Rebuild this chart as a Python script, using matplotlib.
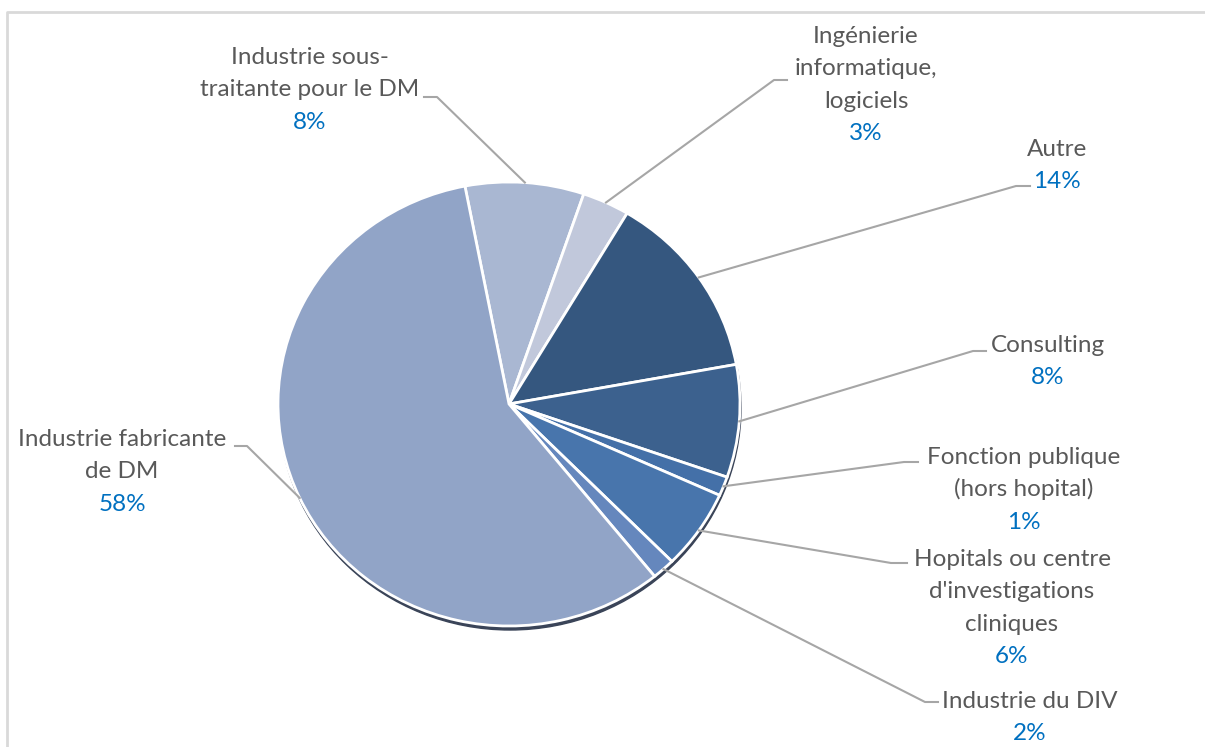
import numpy as np
import matplotlib
matplotlib.use('Agg')
import matplotlib.pyplot as plt
from matplotlib.patches import Ellipse
from matplotlib.transforms import Affine2D

# data, clockwise from the top
categories = [["Industrie sous-", "traitante pour le DM"],
              ["Ingénierie", "informatique,", "logiciels"],
              ["Autre"],
              ["Consulting"],
              ["Fonction publique", "(hors hopital)"],
              ["Hopitals ou centre", "d'investigations", "cliniques"],
              ["Industrie du DIV"],
              ["Industrie fabricante", "de DM"]]
shares = [8.3, 3.3, 13.6, 8.2, 1.4, 5.8, 1.6, 57.8]
colors = ["#A9B7D2", "#C1C8DB", "#35577F", "#3C618E", "#4470A8",
          "#4875AC", "#6587BD", "#91A4C7"]

# layout (pixels, y from the top): centre of first label line, leader elbow
label_pos = [(310, 55), (866, 34), (1057, 147), (1048, 343),
             (1024, 455), (1012, 557), (1030, 699), (122, 437)]
elbow = [((424, 97), (437, 97)), ((787, 80), (774, 80)), ((1030, 186), (1016, 186)),
         ((986, 351), (973, 351)), ((918, 462), (904, 462)), ((907, 563), (891, 563)),
         ((938, 702), (925, 702)), ((235, 446), (247, 446))]

W, H = 1205, 747
LINE = 32.5
FS = 17.5
CAP = 0.72 * FS * 100 / 72  # cap height in px

def Y(y):
    return H - y

fig = plt.figure(figsize=(W / 100, H / 100), dpi=100)
ax = fig.add_axes([0, 0, 1, 1])

# chart frame
ax.plot([7, 7, W + 10], [-10, Y(12), Y(12)], color="#D9D9D9", lw=2, solid_capstyle='butt')

cx, cy, rx, ry = 509, Y(404), 231, 222
ax.add_patch(Ellipse((cx + 1, cy - 4), 2 * rx, 2 * ry, color="#3A4458", zorder=1))

wedges, _ = ax.pie(shares, colors=colors, startangle=101, counterclock=False,
                   center=(0, 0), radius=1, frame=True,
                   wedgeprops=dict(edgecolor="white", linewidth=2))
squash = Affine2D().scale(rx, ry).translate(cx, cy) + ax.transData
for w in wedges:
    w.set_transform(squash)
    w.set_zorder(2)
ax.set_xlim(0, W)
ax.set_ylim(0, H)
ax.set_aspect('auto')
ax.axis('off')

font = "Lato"
for i, w in enumerate(wedges):
    mid = np.deg2rad((w.theta1 + w.theta2) / 2)
    ex, ey = cx + rx * np.cos(mid), cy + ry * np.sin(mid)
    (x1, y1), (x2, y2) = elbow[i]
    ax.plot([x1, x2, ex], [Y(y1), Y(y2), ey], color="#A6A6A6", lw=1.5, zorder=3)

    lx, ly = label_pos[i]
    for k, line in enumerate(categories[i]):
        ax.text(lx, Y(ly + k * LINE + CAP / 2), line, ha='center', va='baseline',
                fontsize=FS, color="#595959", family=font)
    n = len(categories[i])
    ax.text(lx, Y(ly + n * LINE + CAP / 2), f"{round(shares[i]):d}%", ha='center',
            va='baseline', fontsize=FS, color="#0070C0", family=font)

fig.savefig("out.png", dpi=100)
